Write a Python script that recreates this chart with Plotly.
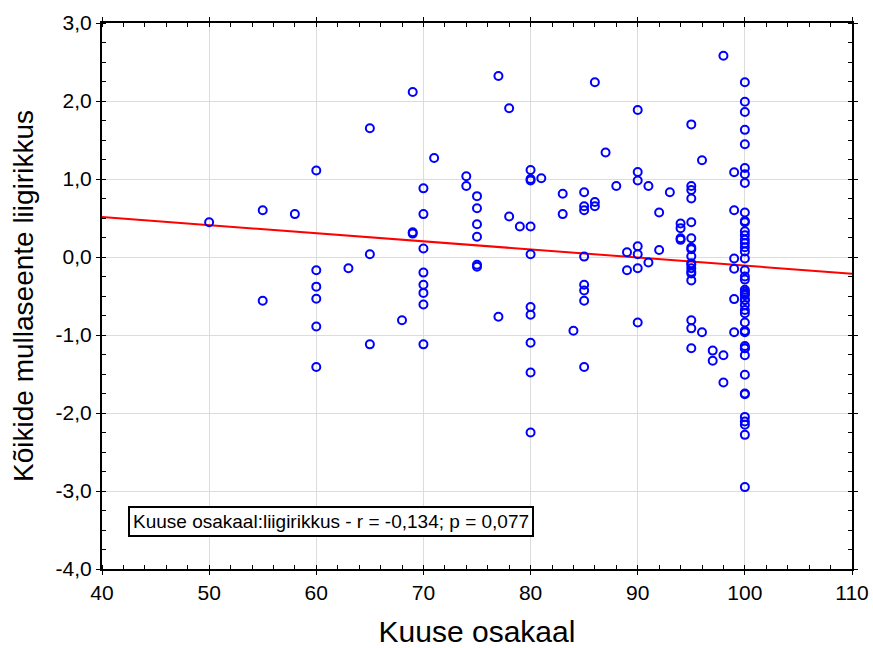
import numpy as np
import plotly.graph_objects as go

# Spruce share (%) per plot and the richness residual of all soil fungi
kuuse_osakaal = (
    [50, 55, 55, 58]
    + [60] * 6 + [63] + [65] * 3 + [68] + [69] * 3 + [70] * 8 + [71] + [74] * 2
    + [75] * 6 + [77] * 2 + [78] * 2 + [79] + [80] * 10 + [81] + [83] * 2 + [84]
    + [85] * 8 + [86] * 3 + [87] + [88] + [89] * 2 + [90] * 7 + [91] * 2 + [92] * 2
    + [93] + [94] * 4 + [95] * 18 + [96] * 2 + [97] * 2 + [98] * 3 + [99] * 6
    + [100] * 46
)
liigirikkus = (
    [0.445, 0.60, -0.56, 0.55]
    + [1.11, -0.17, -0.38, -0.535, -0.89, -1.41]
    + [-0.145]
    + [1.65, 0.035, -1.12]
    + [-0.81]
    + [2.115, 0.316, 0.30]
    + [0.88, 0.55, 0.11, -0.20, -0.355, -0.46, -0.61, -1.12]
    + [1.27]
    + [1.035, 0.91]
    + [0.78, 0.625, 0.42, 0.26, -0.10, -0.124]
    + [2.32, -0.765]
    + [1.906, 0.52]
    + [0.39]
    + [1.115, 1.0, 0.98, 0.39, 0.035, -0.64, -0.74, -1.10, -1.48, -2.25]
    + [1.01]
    + [0.81, 0.55]
    + [-0.945]
    + [0.83, 0.65, 0.60, 0.005, -0.355, -0.43, -0.56, -1.41]
    + [2.24, 0.705, 0.65]
    + [1.34]
    + [0.91]
    + [0.06, -0.17]
    + [1.885, 1.09, 0.98, 0.137, 0.035, -0.145, -0.84]
    + [0.91, -0.07]
    + [0.57, 0.09]
    + [0.83]
    + [0.43, 0.37, 0.24, 0.22]
    + [1.70, 0.91, 0.86, 0.75, 0.445, 0.24, 0.12, 0.10, 0.01, -0.08, -0.10,
       -0.145, -0.19, -0.21, -0.30, -0.81, -0.915, -1.17]
    + [1.24, -0.965]
    + [-1.20, -1.33]
    + [2.58, -1.26, -1.61]
    + [1.086, 0.60, -0.02, -0.15, -0.54, -0.965]
    + [2.24, 1.99, 1.86, 1.63, 1.445, 1.14, 1.06, 0.95, 0.57, 0.46, 0.445, 0.33,
       0.28, 0.22, 0.175, 0.125, 0.07, -0.02, -0.17, -0.25, -0.29, -0.42, -0.445,
       -0.47, -0.49, -0.55, -0.615, -0.68, -0.72, -0.84, -0.95, -0.965, -1.14,
       -1.17, -1.26, -1.51, -1.75, -1.76, -2.05, -2.11, -2.15, -2.28, -2.95,
       -0.55, -0.95, -1.17]
)

x_range = [40, 110]
y_range = [-4.0, 3.0]
x_ticks = [40, 50, 60, 70, 80, 90, 100, 110]
x_tick_labels = ["40", "50", "60", "70", "80", "90", "100", "110"]
y_ticks = [-4.0, -3.0, -2.0, -1.0, 0.0, 1.0, 2.0, 3.0]
y_tick_labels = ["-4,0", "-3,0", "-2,0", "-1,0", "0,0", "1,0", "2,0", "3,0"]
stat_label = "Kuuse osakaal:liigirikkus - r = -0,134; p = 0,077"

x = np.array(kuuse_osakaal, dtype=float)
y = np.array(liigirikkus, dtype=float)

# least-squares line across the full x range
slope, intercept = np.polyfit(x, y, 1)
fit_x = np.array(x_range, dtype=float)
fit_y = intercept + slope * fit_x

font = "Liberation Sans, Arial, sans-serif"

fig = go.Figure()
fig.add_trace(go.Scatter(
    x=fit_x, y=fit_y, mode="lines",
    line=dict(color="#ff0000", width=2),
    hoverinfo="skip", showlegend=False,
))
fig.add_trace(go.Scatter(
    x=x, y=y, mode="markers",
    marker=dict(symbol="circle-open", size=8, color="#0000ff",
                line=dict(color="#0000ff", width=2)),
    showlegend=False,
))

axis_common = dict(
    showline=True, linecolor="black", linewidth=2, mirror="allticks",
    showgrid=True, gridcolor="#dcdcdc", gridwidth=1,
    ticks="outside", ticklen=4, tickcolor="black", tickwidth=1,
    tickfont=dict(family=font, size=21, color="black"),
    zeroline=False, automargin=False,
)

fig.update_xaxes(
    range=x_range, tickvals=x_ticks, ticktext=x_tick_labels,
    minor=dict(ticks="inside", dtick=2, ticklen=4, tickcolor="black", showgrid=False),
    title=dict(text="Kuuse osakaal", font=dict(family=font, size=30, color="black"),
               standoff=22),
    **axis_common,
)
fig.update_yaxes(
    range=y_range, tickvals=y_ticks, ticktext=y_tick_labels,
    minor=dict(ticks="inside", dtick=0.25, ticklen=4, tickcolor="black", showgrid=False),
    title=dict(text="Kõikide mullaseente liigirikkus",
               font=dict(family=font, size=28, color="black"), standoff=14),
    **axis_common,
)

fig.add_annotation(
    xref="paper", yref="paper", x=0.035, y=0.0586,
    xanchor="left", yanchor="bottom", showarrow=False,
    text=stat_label, font=dict(family=font, size=19, color="black"),
    bgcolor="white", bordercolor="black", borderwidth=2, borderpad=3,
)

fig.update_layout(
    width=873, height=648,
    margin=dict(l=102, r=21, t=23, b=79),
    plot_bgcolor="white", paper_bgcolor="white",
    font=dict(family=font),
)

fig.write_html("out.html")
